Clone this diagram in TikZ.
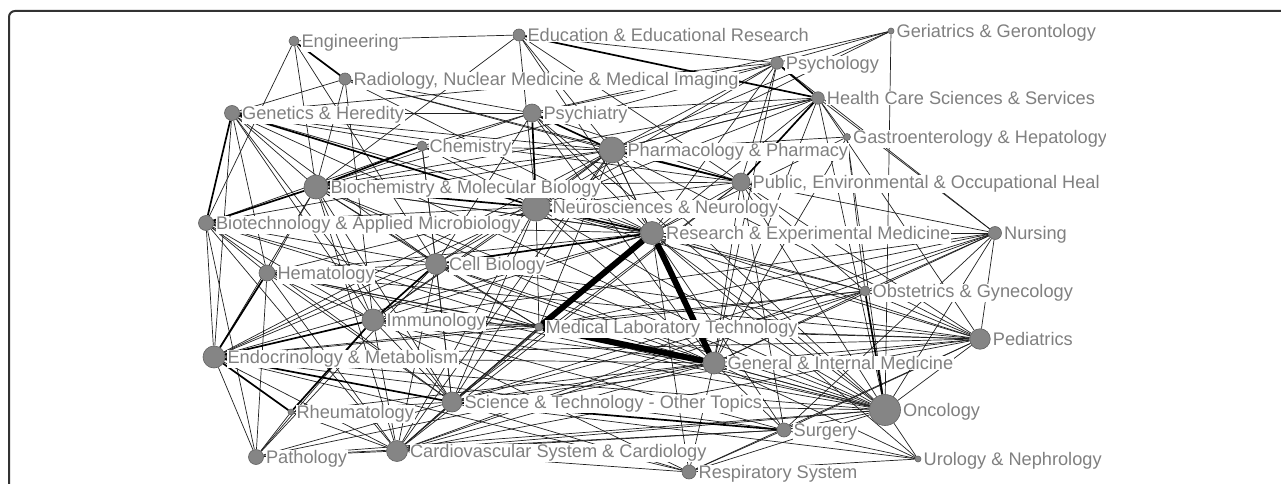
\documentclass[tikz,border=0pt]{standalone}
\usepackage{fontspec}
\setmainfont{Liberation Sans}
\pgfdeclarelayer{bg}
\pgfsetlayers{bg,main}
\definecolor{lblgray}{gray}{0.5}
\definecolor{vtxgray}{gray}{0.52}
\definecolor{vtxline}{gray}{0.38}
\definecolor{framec}{gray}{0.2}
\tikzset{
  vtx/.style={circle, fill=vtxgray, draw=vtxline, line width=0.6pt, inner sep=0pt, minimum size=#1},
  lbl/.style={fill=white, text=lblgray, inner sep=0.6pt, anchor=base west, font=\fontsize{18.2}{20}\selectfont},
  edge/.style={line width=0.7pt, draw=black!88},
  medge/.style={line width=1.7pt, draw=black},
  tedge/.style={line width=6pt, draw=black},
}
\newcommand{\lab}[2]{\node[lbl] (l#1) at ([xshift=1.5pt,yshift=-6.5pt]#1.east) {#2};}
\begin{document}
\begin{tikzpicture}[x=1pt,y=-1pt]
\useasboundingbox (0,0) rectangle (1281,484);
% vertices
\node[vtx=10pt] (eng) at (294,41) {};
\node[vtx=12pt] (edu) at (519,35) {};
\node[vtx=6pt] (ger) at (891,31) {};
\node[vtx=12pt] (rad) at (345,79) {};
\node[vtx=12.5pt] (psyo) at (777,63) {};
\node[vtx=12.5pt] (hcs) at (818,98) {};
\node[vtx=15pt] (gen) at (232,113) {};
\node[vtx=18pt] (psyi) at (532,113) {};
\node[vtx=10pt] (chem) at (422,146) {};
\node[vtx=26pt] (phar) at (612,150) {};
\node[vtx=7pt] (gas) at (847,137) {};
\node[vtx=24pt] (bio) at (316,187) {};
\node[vtx=18pt] (pub) at (741,182) {};
\node[vtx=28pt] (neu) at (536,207) {};
\node[vtx=15pt] (btc) at (206,223) {};
\node[vtx=23pt] (res) at (652,233) {};
\node[vtx=13pt] (nur) at (995,233) {};
\node[vtx=16pt] (hem) at (267,273) {};
\node[vtx=21pt] (cell) at (436,264) {};
\node[vtx=10pt] (obs) at (865,291) {};
\node[vtx=22pt] (imm) at (373,320) {};
\node[vtx=8pt] (mlt) at (539,327) {};
\node[vtx=20.5pt] (ped) at (980,339) {};
\node[vtx=22pt] (endo) at (214,357) {};
\node[vtx=22pt] (gim) at (714,363) {};
\node[vtx=31pt] (onc) at (885,410) {};
\node[vtx=20pt] (sci) at (452,402) {};
\node[vtx=6pt] (rhe) at (291,412) {};
\node[vtx=14pt] (sur) at (784,430) {};
\node[vtx=15pt] (pat) at (256,457) {};
\node[vtx=21pt] (car) at (397,451) {};
\node[vtx=14pt] (resp) at (689,472) {};
\node[vtx=6pt] (uro) at (918,459) {};
% labels
\begin{scope}
\clip (0,0) rectangle (1105.5,484);
\lab{eng}{Engineering}
\lab{edu}{Education \& Educational Research}
\lab{ger}{Geriatrics \& Gerontology}
\lab{rad}{Radiology, Nuclear Medicine \& Medical Imaging}
\lab{psyo}{Psychology}
\lab{hcs}{Health Care Sciences \& Services}
\lab{gen}{Genetics \& Heredity}
\lab{psyi}{Psychiatry}
\lab{chem}{Chemistry}
\lab{phar}{Pharmacology \& Pharmacy}
\lab{gas}{Gastroenterology \& Hepatology}
\lab{bio}{Biochemistry \& Molecular Biology}
\lab{pub}{Public, Environmental \& Occupational Heal}
\lab{neu}{Neurosciences \& Neurology}
\lab{btc}{Biotechnology \& Applied Microbiology}
\lab{res}{Research \& Experimental Medicine}
\lab{nur}{Nursing}
\lab{hem}{Hematology}
\lab{cell}{Cell Biology}
\lab{obs}{Obstetrics \& Gynecology}
\lab{imm}{Immunology}
\lab{mlt}{Medical Laboratory Technology}
\lab{ped}{Pediatrics}
\lab{endo}{Endocrinology \& Metabolism}
\lab{gim}{General \& Internal Medicine}
\lab{onc}{Oncology}
\lab{sci}{Science \& Technology - Other Topics}
\lab{rhe}{Rheumatology}
\lab{sur}{Surgery}
\lab{pat}{Pathology}
\lab{car}{Cardiovascular System \& Cardiology}
\lab{resp}{Respiratory System}
\lab{uro}{Urology \& Nephrology}
\end{scope}
\begin{pgfonlayer}{bg}
\draw[line width=2pt, framec, rounded corners=6pt] (1290,11) -- (9,11) -- (9,495);
\foreach \a/\b in {eng/edu, eng/btc, eng/bio, eng/cell,
 edu/bio, edu/phar, edu/pub, edu/res, edu/neu, edu/psyo,
 ger/psyi, ger/phar, ger/neu, ger/onc, ger/psyo,
 rad/bio, rad/imm, rad/phar, rad/pub, rad/res, rad/gen,
 psyo/psyi, psyo/phar, psyo/pub, psyo/gen, psyo/neu, psyo/res, psyo/nur, psyo/gim, psyo/bio,
 hcs/psyi, hcs/phar, hcs/gas, hcs/nur, hcs/onc, hcs/gim, hcs/neu, hcs/res, hcs/bio, hcs/ped,
 gen/endo, gen/bio, gen/psyi, gen/chem, gen/cell, gen/imm, gen/hem, gen/phar, gen/res, gen/sci, gen/pub, gen/onc,
 btc/endo, btc/pat, btc/hem, btc/cell, btc/imm, btc/neu, btc/sci, btc/res, btc/chem, btc/phar, btc/car, btc/onc, btc/mlt,
 bio/psyi, bio/phar, bio/res, bio/cell, bio/imm, bio/hem, bio/endo, bio/sci, bio/mlt, bio/pub, bio/gim, bio/onc, bio/car,
 chem/phar, chem/psyi, chem/neu, chem/cell, chem/res, chem/sci,
 psyi/pub, psyi/res, psyi/cell, psyi/rad, psyi/onc, psyi/gim,
 phar/neu, phar/res, phar/hcs, phar/cell, phar/imm, phar/onc, phar/gim, phar/sci, phar/endo, phar/gas, phar/car, phar/ped, phar/mlt,
 pub/nur, pub/ped, pub/obs, pub/onc, pub/gim, pub/res, pub/neu, pub/sci, pub/sur, pub/car,
 neu/cell, neu/imm, neu/gim, neu/ped, neu/onc, neu/sci, neu/mlt, neu/endo, neu/hem, neu/car, neu/obs,
 res/bio, res/imm, res/hem, res/endo, res/sci, res/car, res/onc, res/ped, res/nur, res/obs, res/sur, res/resp, res/uro, res/gas,
 nur/obs, nur/ped, nur/onc, nur/gim, nur/sci, nur/sur, nur/car, nur/imm, nur/mlt,
 obs/ped, obs/gim, obs/mlt, obs/endo, obs/sci, obs/car, obs/gas,
 ped/onc, ped/gim, ped/mlt, ped/imm, ped/endo, ped/sci, ped/car, ped/cell, ped/hem, ped/sur, ped/resp,
 onc/gim, onc/sur, onc/uro, onc/sci, onc/car, onc/endo, onc/imm, onc/cell, onc/mlt, onc/hem, onc/resp, onc/pat, onc/gas,
 gim/sur, gim/resp, gim/sci, gim/car, gim/endo, gim/imm, gim/cell, gim/gas, gim/uro, gim/pat, gim/rhe, gim/hem,
 sur/car, sur/resp, sur/uro, sur/endo, sur/pat, sur/imm,
 uro/sci, uro/resp,
 resp/car, resp/sci, resp/endo, resp/imm,
 car/pat, car/sci, car/endo, car/rhe, car/imm, car/hem, car/cell, car/mlt,
 sci/imm, sci/cell, sci/hem, sci/mlt, sci/pat, sci/rhe,
 rhe/pat, pat/endo, pat/hem, pat/imm, pat/cell,
 endo/cell, endo/mlt, hem/cell, hem/imm, hem/mlt, imm/mlt, cell/mlt}
  \draw[edge] (\a) -- (\b);
\foreach \a/\b in {btc/gen, btc/bio, bio/chem, bio/neu, gen/neu, psyi/phar, psyi/neu, res/neu, res/cell,
 endo/imm, endo/sci, endo/rhe, rhe/imm, hcs/psyo, hcs/pub, edu/hcs, eng/rad, obs/onc, pub/phar, hem/endo, cell/imm, sur/sci}
  \draw[medge] (\a) -- (\b);
\draw[tedge] (res) -- (mlt);
\draw[tedge] (res) -- (gim);
\draw[tedge] (mlt) -- (gim);
\end{pgfonlayer}
\end{tikzpicture}
\end{document}
